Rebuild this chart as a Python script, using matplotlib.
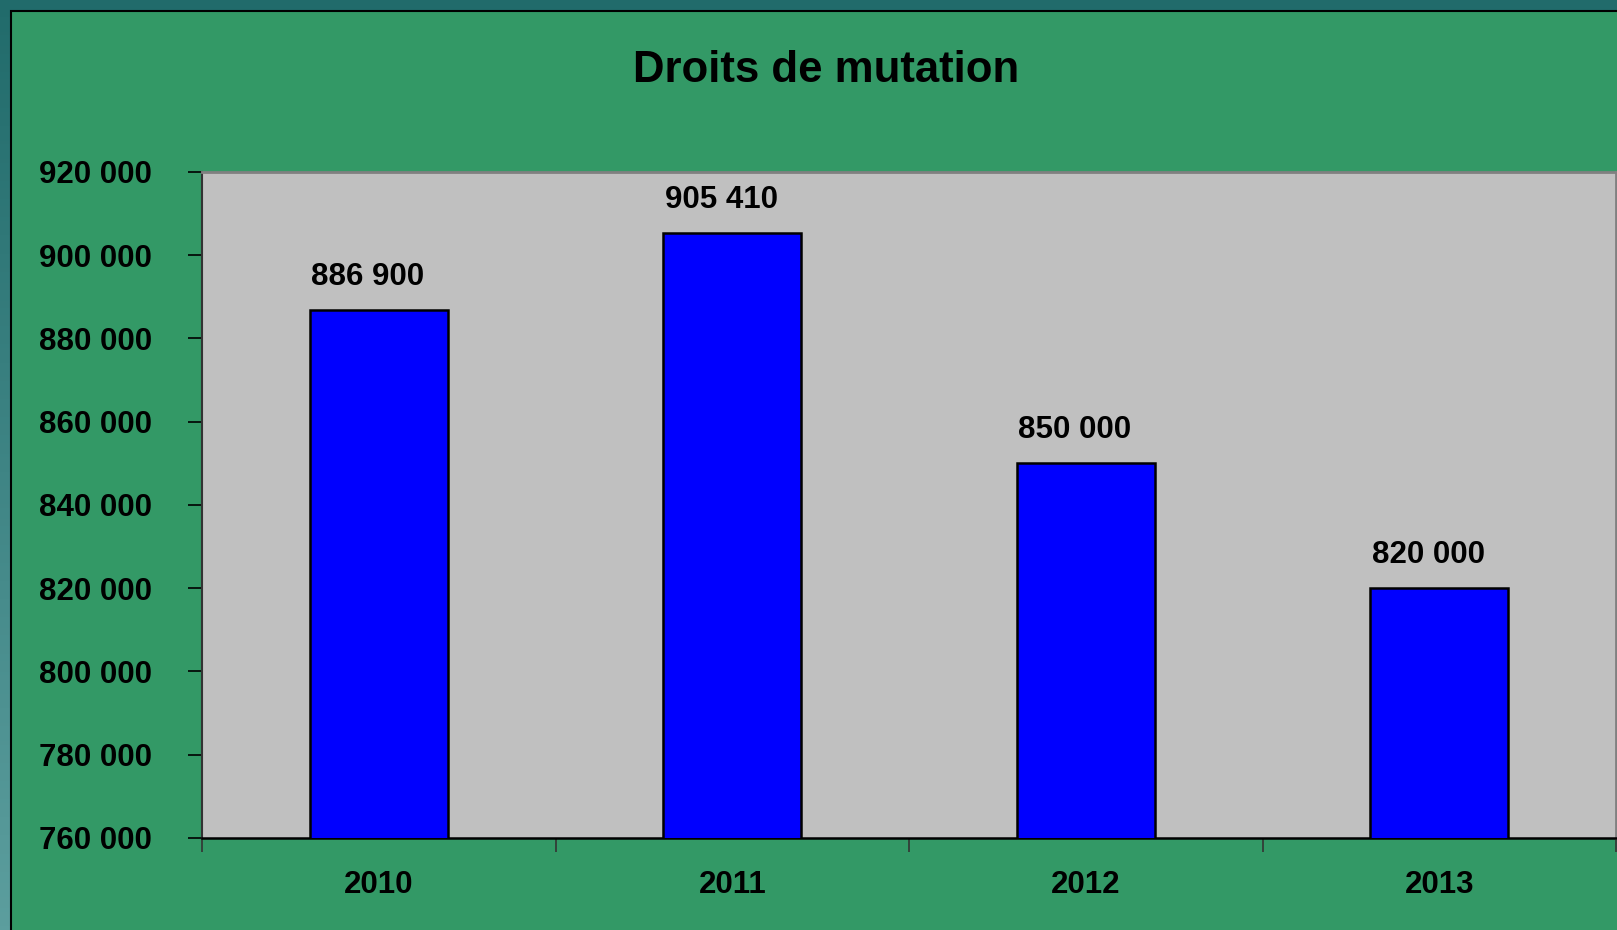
import numpy as np
import matplotlib.pyplot as plt
from matplotlib.patches import Rectangle
from matplotlib.ticker import FuncFormatter, FixedLocator

# chart data
years = ["2010", "2011", "2012", "2013"]
amounts = [886900, 905410, 850000, 820000]
y_ticks = [760000, 780000, 800000, 820000, 840000, 860000, 880000, 900000, 920000]

GREEN = "#339966"
FONT = "Liberation Sans"
W, H, DPI = 1617, 930, 100

plt.rcParams["font.family"] = [FONT, "DejaVu Sans"]
plt.rcParams["font.weight"] = "bold"

fig = plt.figure(figsize=(W / DPI, H / DPI), dpi=DPI)

# teal gradient frame behind everything
bg = fig.add_axes([0, 0, 1, 1], zorder=-10)
bg.set_axis_off()
grad = np.linspace(0, 1, 256).reshape(-1, 1)
top_c = np.array([0x21, 0x6B, 0x6B]) / 255
bot_c = np.array([0x5C, 0x9E, 0x9E]) / 255
img = top_c + (bot_c - top_c) * grad[:, :, None]
bg.imshow(img, aspect="auto", extent=[0, 1, 0, 1], origin="upper")
bg.set_xlim(0, 1)
bg.set_ylim(0, 1)
bg.add_patch(Rectangle((11 / W, -0.01), 1.0, 1 - 11 / H + 0.01,
                       facecolor=GREEN, edgecolor="black", linewidth=1.5))

ax = fig.add_axes([202 / W, 92 / H, 1414 / W, 666 / H])
ax.set_facecolor("#C0C0C0")

x = np.arange(len(years))
bars = ax.bar(x, amounts, width=0.39, color="#0000FF", edgecolor="black",
              linewidth=1.8, zorder=3)

for xi, v in zip(x, amounts):
    ax.annotate(f"{v:,}".replace(",", " "), (xi, v), xytext=(-8, 13),
                textcoords="offset points", ha="center", va="bottom",
                fontsize=22.5, fontweight="bold", color="black")

ax.set_xlim(-0.5, 3.5)
ax.set_ylim(760000, 920000)
ax.set_yticks(y_ticks)
ax.yaxis.set_major_formatter(FuncFormatter(lambda v, p: f"{v:,.0f}".replace(",", " ")))
ax.tick_params(axis="y", direction="out", length=10, width=1.2, pad=26,
               labelsize=22.5, colors="black")

# tick marks at category boundaries, labels at category centres
ax.xaxis.set_major_locator(FixedLocator([-0.5, 0.5, 1.5, 2.5, 3.5]))
ax.xaxis.set_minor_locator(FixedLocator(list(x)))
ax.xaxis.set_major_formatter(FuncFormatter(lambda v, p: ""))
ax.set_xticks(x, minor=True)
ax.set_xticklabels(years, minor=True)
ax.tick_params(axis="x", which="major", direction="out", length=10, width=1.2,
               color="#333333")
ax.tick_params(axis="x", which="minor", length=0, pad=23, labelsize=22.5)

ax.spines["left"].set_color("#333333")
ax.spines["left"].set_linewidth(1.5)
ax.spines["bottom"].set_color("black")
ax.spines["bottom"].set_linewidth(1.8)
ax.spines["top"].set_color("#808080")
ax.spines["top"].set_linewidth(2)
ax.spines["right"].set_color("#808080")
ax.spines["right"].set_linewidth(2)

fig.text(826 / W, 1 - 71 / H, "Droits de mutation", ha="center", va="center",
         fontsize=31.5, fontweight="bold", color="black")

fig.savefig("out.png", dpi=DPI, facecolor="#216B6B")
